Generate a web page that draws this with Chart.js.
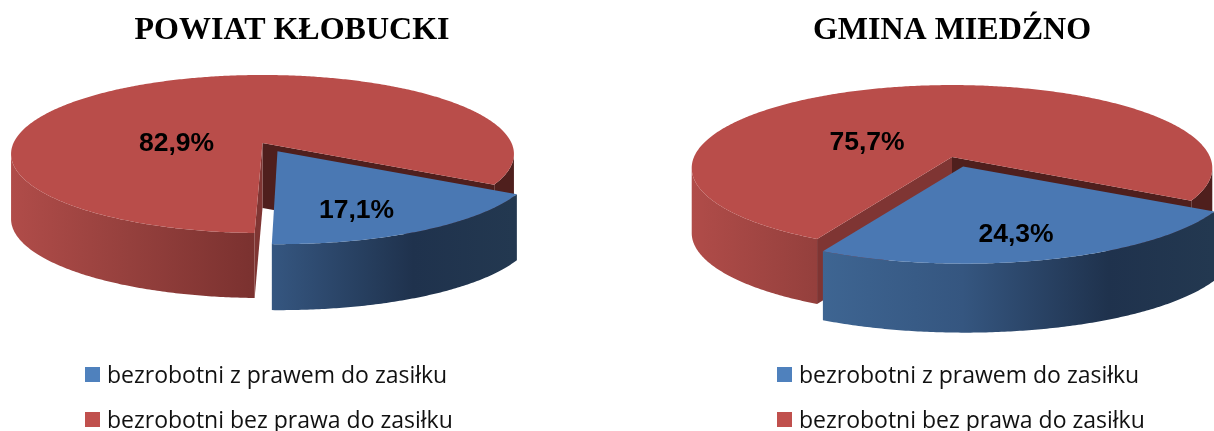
<!DOCTYPE html>
<html lang="pl">
<head>
<meta charset="utf-8">
<title>Bezrobotni</title>
<script src="https://cdn.jsdelivr.net/npm/chart.js@4"></script>
<style>
  html, body { margin: 0; padding: 0; background: #fff; overflow: hidden; width: 1214px; height: 431px; }
  canvas { position: absolute; top: 0; }
  #c1 { left: 0; }
  #c2 { left: 660px; }
  .leg { position: absolute; font: 23px "Open Sans", sans-serif; color: #111; white-space: nowrap; line-height: 28px; }
  .leg i { position: absolute; left: -22px; top: 7px; width: 15px; height: 15px; }
</style>
</head>
<body>
<canvas id="c1" width="584" height="431"></canvas>
<canvas id="c2" width="584" height="431"></canvas>
<script>
'use strict';
const CATEGORIES = ['bezrobotni z prawem do zasiłku', 'bezrobotni bez prawa do zasiłku'];
const TITLE_POWIAT = 'POWIAT KŁOBUCKI';
const TITLE_GMINA = 'GMINA MIEDŹNO';
const VALUES_POWIAT = [17.1, 82.9];
const VALUES_GMINA = [24.3, 75.7];
const COLORS_TOP = ['#4A78B3', '#B94D4A'];
const COLORS_LEGEND = ['#4F81BD', '#C0504D'];

// cieniowanie boków (ułamek szerokości elipsy, kolor)
const SIDE_STOPS = [
  [[0, '#44709f'], [0.25, '#3e6592'], [0.52, '#355680'], [0.8, '#1f324d'], [1, '#233850']],
  [[0, '#b04c49'], [0.236, '#95403d'], [0.47, '#7c3230'], [0.95, '#4f1f1d'], [1, '#4f1f1d']],
];
const WALL_FAR = '#4f1f1d', WALL_NEAR = '#7f3533';

const RADIUS = 100; // promień w modelu Chart.js, rzutowany niżej na elipsę
const EXPLODE = 12;
const ROTATION = 120;
const TILT_POWIAT = { ax: 262.5, ay: 143, sx: 249, sy: 77.5, p: -0.139, depth: [66, 65], wide: 1.012, nudge: 0, labels: [[94, 68], [-86, 1]] };
const TILT_GMINA = { ax: 292, ay: 157, sx: 258, sy: 81.5, p: -0.1325, depth: [69, 65], wide: 1.03, nudge: 2, labels: [[64, 78], [-85, -14]] };

// widok "3D": dysk jednostkowy -> ekran (rzut perspektywiczny)
function project(g, u, v, wide, nudge) {
  const w = 1 + g.p * v;
  return [g.ax + nudge + wide * g.sx * u / w, g.ay + g.sy * v / w];
}

const fPct = v => v.toFixed(1).replace('.', ',') + '%';

const pie3d = {
  id: 'pie3d',
  beforeDatasetsDraw(chart, args, o) {
    const ctx = chart.ctx, g = o.tilt, arcs = chart.getDatasetMeta(0).data;
    const xL = g.ax - g.sx / Math.sqrt(1 - g.p * g.p), xR = g.ax + g.sx / Math.sqrt(1 - g.p * g.p);
    const shape = (el, wide, nudge) => {
      const a = el.startAngle, b = el.endAngle, off = (el.options.offset || 0) / RADIUS, mid = (a + b) / 2;
      const ou = off * Math.cos(mid), ov = off * Math.sin(mid);
      const pt = (t, r) => project(g, ou + r * el.outerRadius / RADIUS * Math.cos(t), ov + r * el.outerRadius / RADIUS * Math.sin(t), wide, nudge);
      return { a, b, pt };
    };
    const poly = (pts, fill) => {
      ctx.beginPath();
      pts.forEach((p, i) => i ? ctx.lineTo(p[0], p[1]) : ctx.moveTo(p[0], p[1]));
      ctx.closePath(); ctx.fillStyle = fill; ctx.fill();
    };
    const wall = (s, t, fill, depth) => {
      const c = s.pt(t, 0), r = s.pt(t, 1);
      poly([c, r, [r[0], r[1] + depth], [c[0], c[1] + depth]], fill);
    };
    const side = (s, i) => {
      const grad = ctx.createLinearGradient(xL, 0, xR, 0);
      SIDE_STOPS[i].forEach(st => grad.addColorStop(st[0], st[1]));
      let run = [];
      const flush = () => {
        if (run.length > 1) poly(run.concat(run.map(p => [p[0], p[1] + g.depth[i]]).reverse()), grad);
        run = [];
      };
      const n = Math.ceil((s.b - s.a) / 0.01);
      for (let k = 0; k <= n; k++) {
        const t = s.a + (s.b - s.a) * k / n;
        if (Math.sin(t) >= -g.p) run.push(s.pt(t, 1)); else flush();
      }
      flush();
    };
    const top = (s, fill) => {
      const pts = [s.pt(s.a, 0)], n = Math.ceil((s.b - s.a) / 0.01);
      for (let k = 0; k <= n; k++) pts.push(s.pt(s.a + (s.b - s.a) * k / n, 1));
      poly(pts, fill);
    };
    const sBlue = shape(arcs[0], g.wide, g.nudge), sRed = shape(arcs[1], 1, 0);
    // czerwony wycinek: ściany, bok, wierzch; potem wysunięty niebieski
    wall(sRed, sRed.b, WALL_FAR, g.depth[1]);
    side(sRed, 1);
    wall(sRed, sRed.a, WALL_NEAR, g.depth[1]);
    top(sRed, arcs[1].options.backgroundColor);
    side(sBlue, 0);
    top(sBlue, arcs[0].options.backgroundColor);
    return false; // łuki rysujemy sami, bez domyślnego koła
  },
  afterDraw(chart, args, o) {
    const ctx = chart.ctx, g = o.tilt, vals = chart.data.datasets[0].data;
    ctx.save();
    ctx.font = 'bold 26.5px "Liberation Sans", Arial, sans-serif';
    ctx.fillStyle = '#000'; ctx.textAlign = 'center'; ctx.textBaseline = 'middle';
    vals.forEach((v, i) => ctx.fillText(fPct(v), g.ax + g.labels[i][0], g.ay + g.labels[i][1]));
    ctx.restore();
  },
};

function makePie(id, title, values, tilt) {
  return new Chart(document.getElementById(id).getContext('2d'), {
    type: 'pie',
    data: { labels: CATEGORIES, datasets: [{ data: values, backgroundColor: COLORS_TOP, borderWidth: 0, offset: [EXPLODE, 0], hoverOffset: 0 }] },
    options: {
      responsive: false, animation: false, devicePixelRatio: 1,
      radius: RADIUS, rotation: ROTATION,
      plugins: {
        legend: { display: false },
        tooltip: { enabled: false },
        title: { display: true, text: title, color: '#000', padding: { top: 12, bottom: 0 }, font: { family: '"Liberation Serif", serif', size: 32, weight: 'bold' } },
        pie3d: { tilt },
      },
    },
    plugins: [pie3d],
  });
}

makePie('c1', TITLE_POWIAT, VALUES_POWIAT, TILT_POWIAT);
makePie('c2', TITLE_GMINA, VALUES_GMINA, TILT_GMINA);

// legendy pod wykresami
[107, 799].forEach(x => CATEGORIES.forEach((c, i) => {
  const d = document.createElement('div');
  d.className = 'leg';
  d.style.left = x + 'px';
  d.style.top = (360 + i * 45) + 'px';
  d.innerHTML = `<i style="background:${COLORS_LEGEND[i]}"></i>`;
  d.appendChild(document.createTextNode(c));
  document.body.appendChild(d);
}));
</script>
</body>
</html>
